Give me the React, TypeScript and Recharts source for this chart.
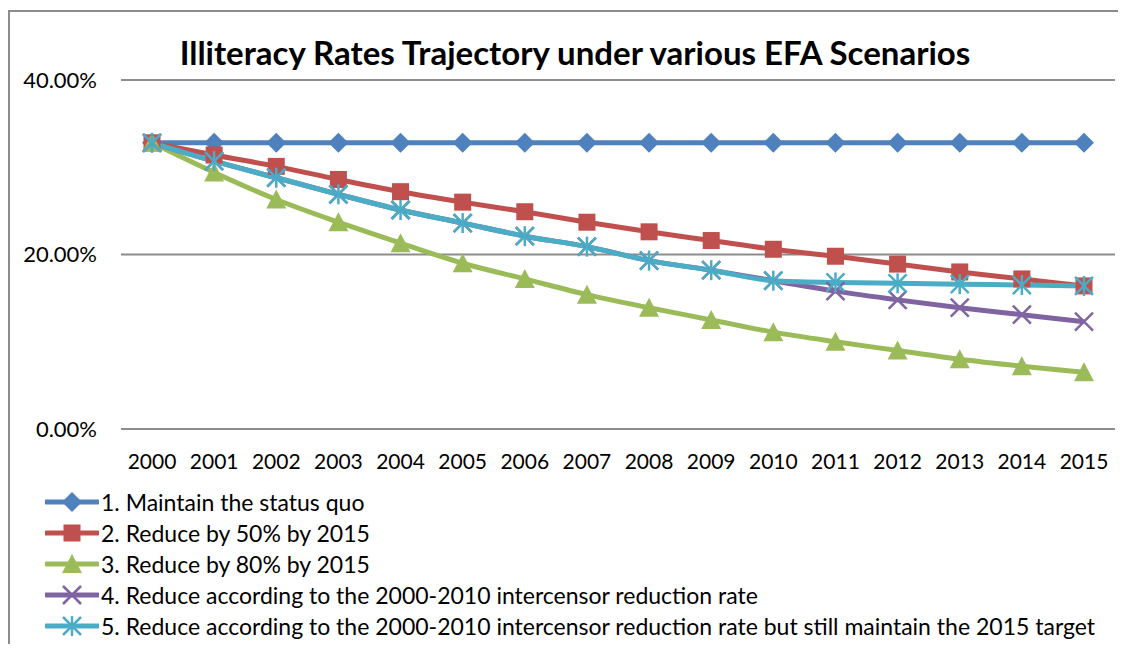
import React from "react";
import { LineChart, Line, XAxis, YAxis, CartesianGrid, Legend } from "recharts";

const years = ["2000", "2001", "2002", "2003", "2004", "2005", "2006", "2007", "2008", "2009", "2010", "2011", "2012", "2013", "2014", "2015"];
const statusQuo = [32.8, 32.8, 32.8, 32.8, 32.8, 32.8, 32.8, 32.8, 32.8, 32.8, 32.8, 32.8, 32.8, 32.8, 32.8, 32.8];
const reduce50 = [32.8, 31.4, 30.1, 28.6, 27.2, 26.0, 24.9, 23.7, 22.6, 21.6, 20.6, 19.8, 18.9, 18.0, 17.2, 16.4];
const reduce80 = [32.8, 29.4, 26.3, 23.7, 21.3, 19.0, 17.2, 15.4, 13.9, 12.5, 11.1, 10.0, 9.0, 8.0, 7.2, 6.5];
const intercensor = [32.8, 30.7, 28.8, 26.9, 25.1, 23.6, 22.1, 20.9, 19.3, 18.2, 17.0, 15.8, 14.8, 13.9, 13.1, 12.3];
const intercensorTarget = [32.8, 30.7, 28.8, 26.9, 25.1, 23.6, 22.1, 20.9, 19.3, 18.2, 17.0, 16.8, 16.7, 16.6, 16.5, 16.4];
const yTicks = [0, 20, 40];

const seriesNames = [
  "1. Maintain the status quo",
  "2. Reduce by 50% by 2015",
  "3. Reduce by 80% by 2015",
  "4. Reduce according to the 2000-2010 intercensor reduction rate",
  "5. Reduce according to the 2000-2010 intercensor reduction rate but still maintain the 2015 target",
];

const data = years.map((year, i) => ({
  year,
  s1: statusQuo[i],
  s2: reduce50[i],
  s3: reduce80[i],
  s4: intercensor[i],
  s5: intercensorTarget[i],
}));

type Kind = "diamond" | "square" | "triangle" | "cross" | "star";

const series: { key: string; name: string; color: string; marker: Kind }[] = [
  { key: "s1", name: seriesNames[0], color: "#4F81BD", marker: "diamond" },
  { key: "s2", name: seriesNames[1], color: "#C0504D", marker: "square" },
  { key: "s3", name: seriesNames[2], color: "#9BBB59", marker: "triangle" },
  { key: "s4", name: seriesNames[3], color: "#8064A2", marker: "cross" },
  { key: "s5", name: seriesNames[4], color: "#4BACC6", marker: "star" },
];

// Excel-style markers
function Marker({ kind, cx, cy, color }: { kind: Kind; cx: number; cy: number; color: string }) {
  if (cx == null || cy == null) return null;
  switch (kind) {
    case "diamond":
      return <polygon points={`${cx},${cy - 10} ${cx + 10},${cy} ${cx},${cy + 10} ${cx - 10},${cy}`} fill={color} />;
    case "square":
      return <rect x={cx - 8.5} y={cy - 8.5} width={17} height={17} fill={color} />;
    case "triangle":
      return <polygon points={`${cx},${cy - 10} ${cx + 10},${cy + 9} ${cx - 10},${cy + 9}`} fill={color} />;
    case "cross":
      return (
        <g stroke={color} strokeWidth={2.5}>
          <line x1={cx - 9} y1={cy - 9} x2={cx + 9} y2={cy + 9} />
          <line x1={cx - 9} y1={cy + 9} x2={cx + 9} y2={cy - 9} />
        </g>
      );
    default:
      return (
        <g stroke={color} strokeWidth={2.5}>
          <line x1={cx - 9} y1={cy - 9} x2={cx + 9} y2={cy + 9} />
          <line x1={cx - 9} y1={cy + 9} x2={cx + 9} y2={cy - 9} />
          <line x1={cx} y1={cy - 10} x2={cx} y2={cy + 10} />
        </g>
      );
  }
}

function renderLegend() {
  return (
    <div style={{ height: 154, fontFamily: "Lato", fontSize: 23, color: "#000" }}>
      {series.map((s) => (
        <div key={s.key} style={{ height: 30.8, display: "flex", alignItems: "center", paddingLeft: 35 }}>
          <svg width={54} height={24} style={{ flex: "none" }}>
            <line x1={1} y1={12} x2={53} y2={12} stroke={s.color} strokeWidth={5} strokeLinecap="round" />
            <Marker kind={s.marker} cx={27} cy={12} color={s.color} />
          </svg>
          <span style={{ marginLeft: 2, whiteSpace: "nowrap" }}>{s.name}</span>
        </div>
      ))}
    </div>
  );
}

export default function App() {
  return (
    <div
      style={{
        position: "relative",
        width: 1120,
        height: 632,
        marginTop: 2,
        borderTop: "2px solid #8c8c8c",
        borderLeft: "2px solid #8c8c8c",
        fontFamily: "Lato",
        overflow: "hidden",
      }}
    >
      <style>{"html, body { overflow: hidden; }"}</style>
      <div
        style={{
          position: "absolute",
          left: 30,
          width: 1070,
          top: 21,
          textAlign: "center",
          fontFamily: "Lato",
          fontWeight: 700,
          fontSize: 33,
          lineHeight: "38px",
          color: "#000",
          whiteSpace: "nowrap",
        }}
      >
        Illiteracy Rates Trajectory under various EFA Scenarios
      </div>
      <LineChart
        width={1114}
        height={630}
        data={data}
        margin={{ top: 68, right: 9, left: 0, bottom: 1 }}
      >
        <CartesianGrid vertical={false} stroke="#8c8c8c" strokeWidth={2} />
        <XAxis
          dataKey="year"
          axisLine={{ stroke: "#8c8c8c", strokeWidth: 2 }}
          tickLine={false}
          tickSize={0}
          tickMargin={25}
          height={58}
          interval={0}
          padding={{ left: 31, right: 31 }}
          tick={{ fill: "#000", fontSize: 21, fontFamily: "Lato" }}
        />
        <YAxis
          domain={[0, 40]}
          ticks={yTicks}
          width={111}
          axisLine={false}
          tickLine={false}
          tickSize={0}
          tickMargin={24}
          tickFormatter={(v: number) => `${v.toFixed(2)}%`}
          tick={{ fill: "#000", fontSize: 22, fontFamily: "Lato" }}
        />
        <Legend layout="horizontal" verticalAlign="bottom" align="left" content={renderLegend} />
        {series.map((s) => (
          <Line
            key={s.key}
            type="monotone"
            dataKey={s.key}
            name={s.name}
            stroke={s.color}
            strokeWidth={5}
            isAnimationActive={false}
            dot={(p: any) => (
              <Marker key={`${s.key}-${p.index}`} kind={s.marker} cx={p.cx} cy={p.cy} color={s.color} />
            )}
            activeDot={false}
          />
        ))}
      </LineChart>
    </div>
  );
}
